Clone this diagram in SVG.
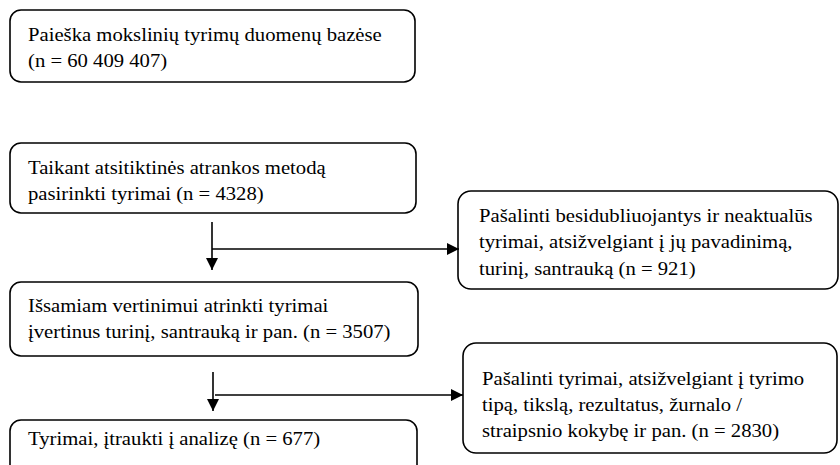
<svg xmlns="http://www.w3.org/2000/svg" width="840" height="465" viewBox="0 0 840 465">
<style>
.box{fill:#fff;stroke:#000;stroke-width:1.6}
.t{font-family:'Liberation Serif','DejaVu Serif',serif;font-size:18px;fill:#000}
.c{stroke:#000;stroke-width:1.6;fill:none}
</style>
<defs>
<marker id="ah" markerUnits="userSpaceOnUse" markerWidth="12" markerHeight="12" refX="12" refY="6" orient="auto">
<path d="M0,0 L12,6 L0,12 z" fill="#000"/>
</marker>
</defs>
<rect width="840" height="465" fill="#fff"/>
<g id="n1">
<rect class="box" x="10" y="10" width="405" height="72" rx="11"/>
<text class="t" transform="translate(28,41) scale(1.15,1)">Paieška mokslinių tyrimų duomenų bazėse</text>
<text class="t" transform="translate(28,67) scale(1.15,1)">(n = 60 409 407)</text>
</g>
<g id="n2">
<rect class="box" x="10" y="143" width="406" height="70" rx="11"/>
<text class="t" transform="translate(28,174) scale(1.15,1)">Taikant atsitiktinės atrankos metodą</text>
<text class="t" transform="translate(28,200) scale(1.15,1)">pasirinkti tyrimai (n = 4328)</text>
</g>
<g id="n3">
<rect class="box" x="458" y="191" width="380" height="98" rx="13"/>
<text class="t" transform="translate(479,222) scale(1.15,1)">Pašalinti besidubliuojantys ir neaktualūs</text>
<text class="t" transform="translate(479,248) scale(1.15,1)">tyrimai, atsižvelgiant į jų pavadinimą,</text>
<text class="t" transform="translate(479,275) scale(1.15,1)">turinį, santrauką (n = 921)</text>
</g>
<g id="n4">
<rect class="box" x="10" y="282" width="408" height="74" rx="11"/>
<text class="t" transform="translate(28,312) scale(1.15,1)">Išsamiam vertinimui atrinkti tyrimai</text>
<text class="t" transform="translate(28,338) scale(1.15,1)">įvertinus turinį, santrauką ir pan. (n = 3507)</text>
</g>
<g id="n5">
<rect class="box" x="463" y="343" width="374" height="110" rx="13"/>
<text class="t" transform="translate(482,385) scale(1.15,1)">Pašalinti tyrimai, atsižvelgiant į tyrimo</text>
<text class="t" transform="translate(482,411) scale(1.15,1)">tipą, tikslą, rezultatus, žurnalo /</text>
<text class="t" transform="translate(482,437) scale(1.15,1)">straipsnio kokybę ir pan. (n = 2830)</text>
</g>
<g id="n6">
<rect class="box" x="10" y="420" width="407" height="70" rx="11"/>
<text class="t" transform="translate(28,445) scale(1.15,1)">Tyrimai, įtraukti į analizę (n = 677)</text>
</g>
<g id="connectors">
<line class="c" x1="212" y1="222" x2="212" y2="270" marker-end="url(#ah)"/>
<line class="c" x1="212" y1="249" x2="459" y2="249" marker-end="url(#ah)"/>
<line class="c" x1="213" y1="372" x2="213" y2="411" marker-end="url(#ah)"/>
<line class="c" x1="215" y1="395" x2="463" y2="395" marker-end="url(#ah)"/>
</g>
</svg>
